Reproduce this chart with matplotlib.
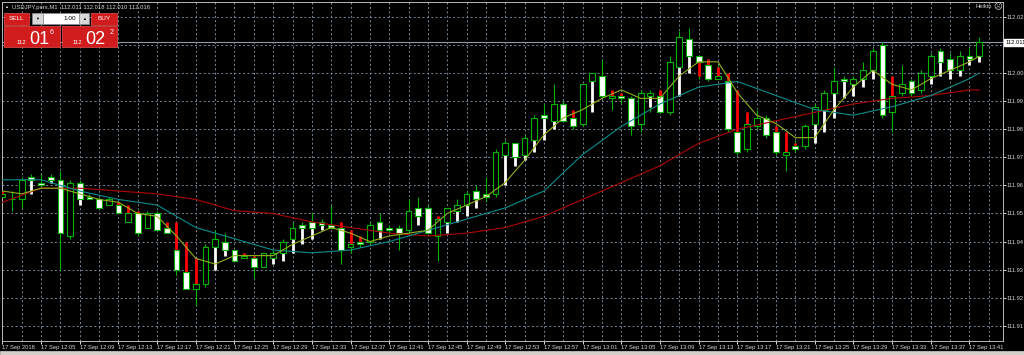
import matplotlib
matplotlib.use("Agg")
import matplotlib.pyplot as plt
from matplotlib.patches import Rectangle

plt.rcParams['font.family'] = ['Liberation Sans', 'DejaVu Sans']

# USDJPY.pers M1, 17 Sep 2018, one bar per minute 12:01 .. 13:42
opens = [111.956, 111.955, 111.955, 111.963, 111.961, 111.963, 111.962, 111.942, 111.961, 111.956,
         111.955, 111.953, 111.953, 111.947, 111.950, 111.945, 111.950, 111.945, 111.937, 111.929,
         111.923, 111.925, 111.938, 111.940, 111.937, 111.934, 111.934, 111.931, 111.934, 111.936,
         111.941, 111.946, 111.947, 111.947, 111.946, 111.945, 111.938, 111.940, 111.940, 111.947,
         111.945, 111.945, 111.944, 111.952, 111.952, 111.942, 111.947, 111.951, 111.953, 111.958,
         111.957, 111.957, 111.971, 111.975, 111.971, 111.976, 111.985, 111.983, 111.989, 111.984,
         111.982, 111.997, 111.999, 111.991, 111.992, 111.991, 111.982, 111.992, 111.992, 111.986,
         112.002, 112.012, 112.006, 112.003, 111.998, 111.997, 111.979, 111.973, 111.981, 111.984,
         111.979, 111.971, 111.974, 111.974, 111.982, 111.987, 111.993, 111.998, 111.996, 111.998,
         112.001, 112.010, 111.986, 111.993, 111.997, 111.994, 111.999, 112.008, 112.005, 112.001,
         112.006, 112.006]
highs = [111.959, 111.958, 111.963, 111.964, 111.964, 111.964, 111.965, 111.962, 111.962, 111.957,
         111.956, 111.956, 111.953, 111.951, 111.951, 111.951, 111.951, 111.946, 111.938, 111.930,
         111.926, 111.939, 111.944, 111.943, 111.937, 111.936, 111.935, 111.936, 111.937, 111.941,
         111.947, 111.947, 111.950, 111.948, 111.953, 111.946, 111.940, 111.941, 111.947, 111.950,
         111.946, 111.946, 111.955, 111.956, 111.953, 111.948, 111.952, 111.955, 111.958, 111.960,
         111.963, 111.973, 111.976, 111.975, 111.978, 111.985, 111.989, 111.996, 111.990, 111.984,
         111.996, 112.000, 112.005, 111.993, 111.993, 111.992, 111.994, 111.994, 111.992, 112.006,
         112.015, 112.016, 112.006, 112.005, 112.003, 112.000, 111.994, 111.986, 111.987, 111.985,
         111.981, 111.979, 111.976, 111.982, 111.989, 111.994, 112.002, 111.999, 111.999, 112.004,
         112.009, 112.011, 111.999, 112.003, 111.998, 112.001, 112.007, 112.009, 112.007, 112.008,
         112.009, 112.013]
lows = [111.955, 111.951, 111.952, 111.961, 111.959, 111.961, 111.930, 111.941, 111.954, 111.955,
        111.952, 111.953, 111.950, 111.947, 111.942, 111.945, 111.944, 111.943, 111.928, 111.923,
        111.917, 111.924, 111.938, 111.937, 111.933, 111.934, 111.927, 111.931, 111.934, 111.936,
        111.941, 111.945, 111.945, 111.946, 111.945, 111.932, 111.936, 111.938, 111.939, 111.944,
        111.943, 111.937, 111.943, 111.949, 111.943, 111.933, 111.947, 111.951, 111.953, 111.955,
        111.954, 111.956, 111.971, 111.970, 111.971, 111.976, 111.984, 111.983, 111.983, 111.980,
        111.981, 111.996, 111.991, 111.987, 111.989, 111.978, 111.979, 111.986, 111.986, 111.985,
        112.001, 112.005, 111.998, 111.997, 111.998, 111.979, 111.971, 111.972, 111.980, 111.977,
        111.971, 111.965, 111.972, 111.973, 111.981, 111.986, 111.992, 111.996, 111.995, 111.997,
        112.000, 111.984, 111.979, 111.992, 111.992, 111.993, 111.998, 112.003, 112.000, 112.000,
        112.004, 112.005]
closes = [111.957, 111.955, 111.962, 111.962, 111.960, 111.962, 111.943, 111.961, 111.955, 111.955,
          111.952, 111.955, 111.950, 111.950, 111.943, 111.950, 111.944, 111.943, 111.930, 111.923,
          111.925, 111.938, 111.941, 111.937, 111.933, 111.935, 111.931, 111.936, 111.936, 111.940,
          111.945, 111.945, 111.945, 111.946, 111.945, 111.937, 111.939, 111.939, 111.946, 111.944,
          111.944, 111.943, 111.951, 111.949, 111.943, 111.948, 111.952, 111.953, 111.957, 111.955,
          111.956, 111.972, 111.975, 111.970, 111.977, 111.984, 111.984, 111.989, 111.983, 111.981,
          111.996, 112.000, 111.992, 111.992, 111.991, 111.981, 111.993, 111.993, 111.986, 112.004,
          112.013, 112.006, 112.004, 111.998, 111.999, 111.980, 111.972, 111.982, 111.984, 111.978,
          111.972, 111.972, 111.973, 111.981, 111.988, 111.993, 111.997, 111.997, 111.998, 112.001,
          112.008, 111.985, 111.992, 111.996, 111.993, 112.000, 112.006, 112.004, 112.001, 112.006,
          112.005, 112.011]

# Heikin Ashi overlay bodies that show outside the candles (r = bearish, w = bullish, . = hidden)
ha_top = [111.958, None, None, 111.962, None, 111.962, None, None, 111.955, 111.956,
          None, None, 111.954, 111.953, 111.951, None, None, 111.947, 111.947, 111.940,
          111.934, None, 111.938, 111.937, None, 111.936, 111.935, None, 111.934, 111.936,
          111.941, 111.945, 111.945, 111.946, None, 111.947, 111.944, 111.942, None, 111.944,
          None, None, None, 111.949, None, 111.949, 111.947, 111.951, 111.953, 111.955,
          None, None, 111.971, 111.970, 111.971, 111.976, 111.984, 111.983, None, 111.987,
          None, 111.997, None, 111.994, 111.993, None, None, 111.992, 111.994, None,
          112.002, 112.006, 112.004, 112.005, 112.002, 112.000, 111.994, 111.986, None, None,
          111.981, 111.979, 111.975, None, 111.982, 111.987, 111.993, 111.997, 111.996, 111.998,
          112.001, None, 111.999, None, None, None, 111.999, 112.004, 112.001, 112.001,
          112.005, 112.006]
ha_bot = [111.956, None, None, 111.957, None, 111.961, None, None, 111.953, 111.955,
          None, None, 111.953, 111.950, 111.950, None, None, 111.945, 111.937, 111.929,
          111.925, None, 111.930, 111.935, None, 111.934, 111.934, None, 111.932, 111.933,
          111.936, 111.939, 111.941, 111.944, None, 111.945, 111.939, 111.940, None, 111.941,
          None, None, None, 111.946, None, 111.948, 111.943, 111.947, 111.949, 111.952,
          None, None, 111.960, 111.967, 111.969, 111.972, 111.976, 111.980, None, 111.984,
          None, 111.986, None, 111.992, 111.992, None, None, 111.988, 111.992, None,
          111.992, 112.000, 111.999, 112.003, 111.999, 111.997, 111.979, 111.982, None, None,
          111.979, 111.972, 111.974, None, 111.975, 111.979, 111.984, 111.991, 111.992, 111.995,
          111.998, None, 111.992, None, None, None, 111.996, 111.999, 111.998, 111.999,
          112.003, 112.004]
ha_kind = ("r..w.w..wr" "..rrr..rrr" "r.ww.rr.ww" "wwww.rrr.w" "...w.rwwww"
           "..wwwwww.r" ".w.rr..wr." "wwrrrrrr.." "rrr.wwwwww" "w.r...wwww" "ww")

# moving averages
fast_bars = list(range(0, 101, 2)) + [101]
fast_ma = [111.958, 111.957, 111.959, 111.959, 111.957, 111.955, 111.954, 111.950, 111.949, 111.942,
           111.934, 111.932, 111.935, 111.935, 111.935, 111.939, 111.942, 111.945, 111.943, 111.940,
           111.942, 111.943, 111.944, 111.950, 111.953, 111.956, 111.961, 111.969, 111.978, 111.984,
           111.987, 111.991, 111.994, 111.991, 111.991, 111.999, 112.004, 112.004, 111.993, 111.985,
           111.982, 111.977, 111.977, 111.987, 111.995, 112.001, 111.996, 111.994, 111.998, 112.001,
           112.004, 112.006]
slow_bars = list(range(0, 101, 4)) + [101]
mid_ma = [111.962, 111.962, 111.958, 111.955, 111.953, 111.945, 111.941, 111.937, 111.936, 111.937,
          111.940, 111.944, 111.948, 111.952, 111.958, 111.971, 111.981, 111.989, 111.995, 111.997,
          111.992, 111.987, 111.985, 111.988, 111.992, 111.998, 112.000]
long_ma = [111.954, 111.959, 111.959, 111.958, 111.957, 111.955, 111.951, 111.950, 111.947, 111.945,
           111.943, 111.942, 111.943, 111.945, 111.949, 111.955, 111.961, 111.967, 111.975, 111.980,
           111.983, 111.986, 111.989, 111.991, 111.992, 111.994, 111.994]

time_labels = ['17 Sep 2018', '17 Sep 12:05', '17 Sep 12:09', '17 Sep 12:13', '17 Sep 12:17',
               '17 Sep 12:21', '17 Sep 12:25', '17 Sep 12:29', '17 Sep 12:33', '17 Sep 12:37',
               '17 Sep 12:41', '17 Sep 12:45', '17 Sep 12:49', '17 Sep 12:53', '17 Sep 12:57',
               '17 Sep 13:01', '17 Sep 13:05', '17 Sep 13:09', '17 Sep 13:13', '17 Sep 13:17',
               '17 Sep 13:21', '17 Sep 13:25', '17 Sep 13:29', '17 Sep 13:33', '17 Sep 13:37',
               '17 Sep 13:41']
price_ticks = [111.91, 111.92, 111.93, 111.94, 111.95, 111.96, 111.97, 111.98, 111.99, 112.00,
               112.01, 112.02]
bid = 112.011
header = 'USDJPY.pers,M1  112.011 112.018 112.010 112.016'

GREEN = '#00b400'
GRID = '#778899'
TXT = '#d8d8d8'
FS = 4.15
W, H = 1024, 355

fig = plt.figure(figsize=(W / 100, H / 100), dpi=100, facecolor='black')
ax = fig.add_axes([2 / W, 14 / H, 1001 / W, 339 / H], facecolor='black')

n = len(opens)
xs = list(range(n))

# candles: wick, Heikin Ashi body, then real body on top
ax.vlines(xs, lows, highs, color=GREEN, lw=0.8, zorder=2)
for i in xs:
    if ha_top[i] is not None:
        col = '#ff0000' if ha_kind[i] == 'r' else 'white'
        ax.vlines(i, ha_bot[i], ha_top[i], color=col, lw=2.0, zorder=3)
bottoms = [min(o, c) for o, c in zip(opens, closes)]
heights = [abs(c - o) for o, c in zip(opens, closes)]
fills = ['black' if c >= o else 'white' for o, c in zip(opens, closes)]
ax.bar(xs, heights, 0.6, bottom=bottoms, color=fills, edgecolor=GREEN, lw=0.8, zorder=4)

ax.plot(slow_bars, long_ma, color='#b00000', lw=0.8, zorder=5)
ax.plot(slow_bars, mid_ma, color='#0a8c8c', lw=0.8, zorder=5)
ax.plot(fast_bars, fast_ma, color='#93b01c', lw=0.8, zorder=5)

ax.axhline(bid, color='#8e9aa6', lw=0.8, zorder=1)

ax.set_xlim(-0.04, 103.47)
ax.set_ylim(111.9046, 112.0253)

ax.set_xticks(range(0, 101, 4))
ax.set_xticklabels(time_labels, ha='left', fontsize=FS, color=TXT)
ax.set_xticks(range(0, 104, 2), minor=True)
ax.yaxis.tick_right()
ax.set_yticks(price_ticks)
ax.set_yticklabels(['%.2f' % p for p in price_ticks], fontsize=FS, color=TXT)
ax.tick_params(axis='both', which='major', color='white', length=2.0, width=0.6, pad=0.8)
ax.tick_params(axis='x', which='minor', length=0)
ax.grid(True, which='both', axis='x', color=GRID, lw=0.7, linestyle=(0, (2, 2.5)), zorder=0)
ax.grid(True, which='major', axis='y', color=GRID, lw=0.7, linestyle=(0, (2, 2.5)), zorder=0)
for s in ax.spines.values():
    s.set_color('#b8b8b8')
    s.set_linewidth(0.7)

ax.annotate('112.011', xy=(1.0, bid), xycoords=('axes fraction', 'data'),
            xytext=(1.5, 0), textcoords='offset points', fontsize=FS, color='black',
            va='center', ha='left', annotation_clip=False,
            bbox=dict(boxstyle='square,pad=0.15', fc='white', ec='white'))


def box(x0, y0, x1, y1, color, ec=None):
    fig.add_artist(Rectangle((x0 / W, 1 - y1 / H), (x1 - x0) / W, (y1 - y0) / H,
                             transform=fig.transFigure, facecolor=color,
                             edgecolor=ec or color, lw=0.5, zorder=10))


def label(x, y, s, size, color='white', ha='center', va='center'):
    fig.text(x / W, 1 - y / H, s, fontsize=size, color=color, ha=ha, va=va, zorder=11)


# header and one-click trading panel
label(4, 7, '▲', 3, color=TXT, ha='left')
label(12, 7, header, 4.2, color=TXT, ha='left')
RED = '#d01c1c'
box(4, 13, 29, 25, RED, '#e85050')
label(16.5, 19, 'SELL', 4.6)
box(32, 13, 43, 24, '#d8d8d8', '#909090')
label(37.5, 18.5, '▼', 2.8, color='black')
box(43, 13, 79, 24, 'white', '#909090')
label(76, 18.5, '1.00', 4.6, color='black', ha='right')
box(79, 13, 89, 24, '#d8d8d8', '#909090')
label(84, 18.5, '▲', 2.8, color='black')
box(91, 13, 117, 25, RED, '#e85050')
label(104, 19, 'BUY', 4.6)
box(4, 26, 60, 47, RED, '#e85050')
box(62, 26, 117, 47, RED, '#e85050')
label(17, 44, '112', 4.3, ha='left', va='baseline')
label(29, 43.5, '01', 13, ha='left', va='baseline')
label(50, 34.5, '6', 5, ha='left', va='baseline')
label(73, 44, '112', 4.3, ha='left', va='baseline')
label(85, 43.5, '02', 13, ha='left', va='baseline')
label(109.5, 34.5, '2', 5, ha='left', va='baseline')

label(975, 7, 'Heikin', 4.2, color=TXT, ha='left')
fig.text(993 / W, 1 - 7 / H, '☹', fontsize=6, color=TXT, ha='left', va='center',
         family='DejaVu Sans', zorder=11)

box(0, 351, 1024, 355, '#d4d0c8')

fig.savefig('out.png', dpi=100, facecolor='black')
